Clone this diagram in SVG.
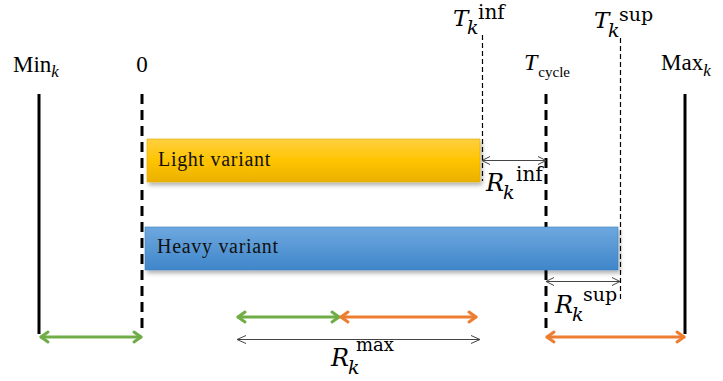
<svg xmlns="http://www.w3.org/2000/svg" width="723" height="381" viewBox="0 0 723 381">
<defs>
<linearGradient id="gy" x1="0" y1="0" x2="0" y2="1">
<stop offset="0" stop-color="#FFD040"/>
<stop offset="0.5" stop-color="#FFC400"/>
<stop offset="1" stop-color="#EAB000"/>
</linearGradient>
<linearGradient id="gb" x1="0" y1="0" x2="0" y2="1">
<stop offset="0" stop-color="#6EA8DF"/>
<stop offset="1" stop-color="#3F86CA"/>
</linearGradient>
<filter id="sh" x="-5%" y="-20%" width="110%" height="150%">
<feDropShadow dx="2" dy="3" stdDeviation="2" flood-color="#000" flood-opacity="0.3"/>
</filter>
</defs>
<style>
.thick{stroke:#000;stroke-width:3;fill:none}
.dash{stroke-dasharray:10 6}
.thin{stroke:#000;stroke-width:1.2;fill:none;stroke-dasharray:5 3}
.ar{stroke:#444;stroke-width:1;fill:none}
.g{stroke:#70AD47;stroke-width:3;fill:none;stroke-linecap:round;stroke-linejoin:round}
.o{stroke:#ED7D31;stroke-width:3;fill:none;stroke-linecap:round;stroke-linejoin:round}
.cm{font-family:"Liberation Serif",serif;fill:#000}
.m{font-family:"DejaVu Serif",serif;fill:#000}
.it{font-style:italic}
.lbl{font-family:"Liberation Serif",serif;font-size:20px;letter-spacing:0.7px;fill:#111}
</style>
<g id="axes">
<line class="thick" x1="39" y1="94" x2="39" y2="334"/>
<line class="thick dash" x1="142" y1="94" x2="142" y2="334"/>
<line class="thick dash" x1="546" y1="94" x2="546" y2="334"/>
<line class="thick" x1="685" y1="94" x2="685" y2="334"/>
<line class="thin" x1="482.5" y1="35" x2="482.5" y2="181"/>
<line class="thin" x1="620.5" y1="38" x2="620.5" y2="300"/>
</g>
<g id="light">
<rect x="147" y="139" width="333" height="43" fill="url(#gy)" stroke="#E0A800" stroke-width="0.6" filter="url(#sh)"/>
<text class="lbl" x="158" y="166">Light variant</text>
</g>
<g id="heavy">
<rect x="145" y="227" width="473" height="43" fill="url(#gb)" stroke="#3D7FC0" stroke-width="0.6" filter="url(#sh)"/>
<text class="lbl" x="157" y="253">Heavy variant</text>
</g>
<g id="labels">
<text class="cm" x="13" y="72" font-size="23">Min<tspan class="it" font-size="17" dy="5">k</tspan></text>
<text class="cm" x="142" y="72" font-size="23" text-anchor="middle">0</text>
<text class="cm" x="524" y="70" font-size="24"><tspan class="it">T</tspan><tspan font-size="15" dx="1" dy="7">cycle</tspan></text>
<text class="cm" x="661" y="70" font-size="23">Max<tspan class="it" font-size="17" dy="6">k</tspan></text>
<text class="m"><tspan class="it" x="453" y="26" font-size="23">T</tspan><tspan class="it" x="467" y="34" font-size="19">k</tspan><tspan x="478" y="19" font-size="20">inf</tspan></text>
<text class="m"><tspan class="it" x="594" y="28" font-size="23">T</tspan><tspan class="it" x="608" y="37" font-size="19">k</tspan><tspan x="619" y="21" font-size="19">sup</tspan></text>
<text class="m"><tspan class="it" x="486" y="191" font-size="24">R</tspan><tspan class="it" x="503" y="199" font-size="19">k</tspan><tspan x="516" y="181" font-size="20">inf</tspan></text>
<text class="m"><tspan class="it" x="555" y="313" font-size="24">R</tspan><tspan class="it" x="572" y="321" font-size="19">k</tspan><tspan x="583" y="301" font-size="19">sup</tspan></text>
<text class="m"><tspan class="it" x="331" y="366" font-size="24">R</tspan><tspan class="it" x="348" y="374" font-size="19">k</tspan><tspan x="356" y="351" font-size="18">max</tspan></text>
</g>
<g id="connectors">
<line class="ar" x1="482" y1="160.5" x2="546" y2="160.5"/>
<polyline class="ar" points="490,156.5 482,160.5 490,164.5"/>
<polyline class="ar" points="538,156.5 546,160.5 538,164.5"/>
<line class="ar" x1="546" y1="281.5" x2="620" y2="281.5"/>
<polyline class="ar" points="554,277.5 546,281.5 554,285.5"/>
<polyline class="ar" points="612,277.5 620,281.5 612,285.5"/>
<line class="ar" x1="237" y1="339.5" x2="480" y2="339.5"/>
<polyline class="ar" points="246,335.5 237,339.5 246,343.5"/>
<polyline class="ar" points="471,335.5 480,339.5 471,343.5"/>
<line class="g" x1="41" y1="337" x2="141" y2="337"/>
<polyline class="g" points="48,332 41,337 48,342"/>
<polyline class="g" points="134,332 141,337 134,342"/>
<line class="g" x1="238" y1="317" x2="339" y2="317"/>
<polyline class="g" points="245,312 238,317 245,322"/>
<polyline class="g" points="332,312 339,317 332,322"/>
<line class="o" x1="341" y1="317" x2="476" y2="317"/>
<polyline class="o" points="348,312 341,317 348,322"/>
<polyline class="o" points="469,312 476,317 469,322"/>
<line class="o" x1="547" y1="337" x2="684" y2="337"/>
<polyline class="o" points="554,332 547,337 554,342"/>
<polyline class="o" points="677,332 684,337 677,342"/>
</g>
</svg>
